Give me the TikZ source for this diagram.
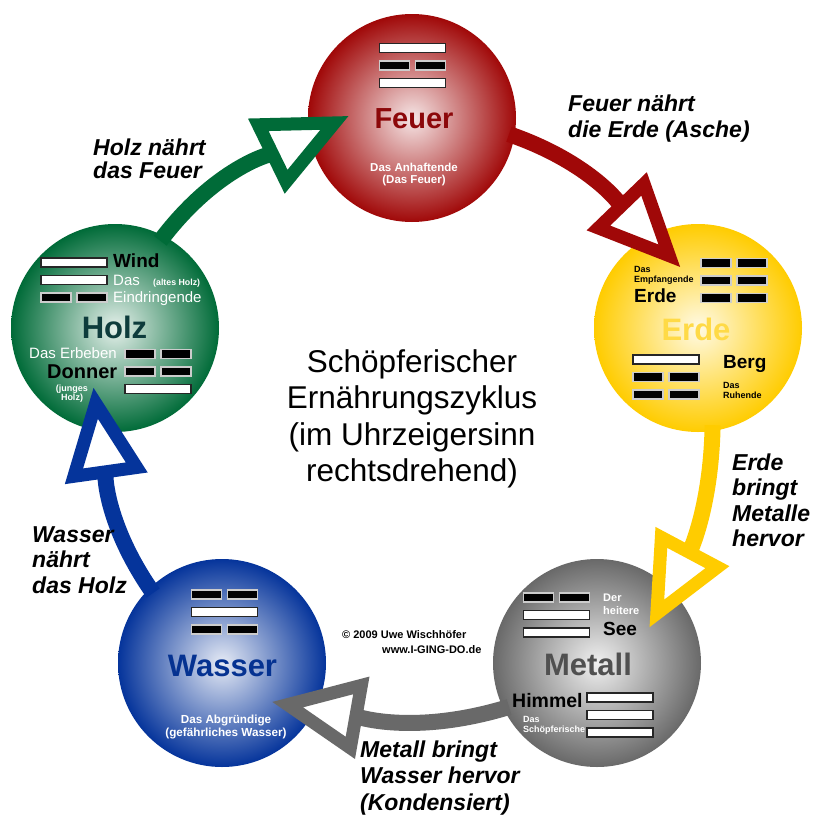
\documentclass[tikz,border=0pt]{standalone}
\usepackage{fontspec}
\setmainfont{Liberation Sans}
\usetikzlibrary{arrows.meta}

\definecolor{feuerrot}{RGB}{160,8,8}
\definecolor{feuerdunkel}{RGB}{140,8,10}
\definecolor{erdegelb}{RGB}{255,204,0}
\definecolor{erdehell}{RGB}{255,218,70}
\definecolor{holzgruen}{RGB}{0,107,56}
\definecolor{holzdunkel}{RGB}{14,60,60}
\definecolor{wasserblau}{RGB}{5,52,155}
\definecolor{wasserdunkel}{RGB}{5,50,145}
\definecolor{metallgrau}{RGB}{105,105,105}
\definecolor{metalldunkel}{RGB}{80,80,80}

\newcommand{\fsz}[2]{\fontsize{#1}{#2}\selectfont}
% one line of a trigram: #1 = 1 (whole) or 0 (broken), centre at (#2,#3)
\newcommand{\yao}[3]{%
  \ifnum#1=1
    \draw[yangbar] ({#2-33},{-(#3)-4.5}) rectangle ({#2+33},{-(#3)+4.5});
  \else
    \draw[yinbar] ({#2-33},{-(#3)-4.5}) rectangle ({#2-3},{-(#3)+4.5});
    \draw[yinbar] ({#2+3},{-(#3)-4.5}) rectangle ({#2+33},{-(#3)+4.5});
  \fi}
% trigram from top to bottom: centre x #1, top row y #2, lines #3 #4 #5
\newcommand{\trigram}[5]{%
  \yao{#3}{#1}{#2}%
  \yao{#4}{#1}{#2+17.5}%
  \yao{#5}{#1}{#2+35}}

\begin{document}
\begin{tikzpicture}[x=1pt, y=1pt,
  element/.style={circle, minimum size=208pt, inner sep=0pt,
    inner color=white!90!#1, outer color=#1},
  yangbar/.style={fill=white, draw=black!85, line width=1.3pt},
  yinbar/.style={fill=black, draw=white!80!black, line width=1.3pt},
  flow/.style={draw=#1, line width=16pt, shorten <=-6pt,
    -{Triangle[length=92pt, width=80pt, line width=13pt, fill=white]}},
  lab/.style={font=\bfseries\itshape\fsz{23}{#1}, align=left,
    anchor=base west, inner sep=0pt},
  txt/.style={inner sep=0pt, anchor=base west}]
  \fill[white] (0,0) rectangle (818,-820);
  \useasboundingbox (0,0) rectangle (818,-820);

  % the five elements
  \node[element=feuerrot] (feuer) at (412,-118) {};
  \node[element=erdegelb] (erde) at (698,-328) {};
  \node[element=metallgrau] (metall) at (597,-663) {};
  \node[element=wasserblau] (wasser) at (222,-663) {};
  \node[element=holzgruen] (holz) at (115,-328) {};

  % feeding cycle
  \draw[flow=holzgruen] (holz.62) to[out=53, in=206] ([shift={(178:63)}]feuer.center);
  \draw[flow=feuerrot] (feuer.-10) to[out=-19, in=134] ([shift={(106:63)}]erde.center);
  \draw[flow=erdegelb] (erde.-82) to[out=-91, in=62] ([shift={(34:63)}]metall.center);
  \draw[flow=metallgrau] (metall.-154) to[out=-163, in=-10] ([shift={(-38:63)}]wasser.center);
  \draw[flow=wasserblau] (wasser.134) to[out=125, in=278] ([shift={(250:63)}]holz.center);

  % Feuer
  \trigram{412.5}{48}{1}{0}{1}
  \node[txt, anchor=base, font=\bfseries\fsz{29}{30}, text=feuerdunkel] (feuername) at (414,-128) {Feuer};
  \node[txt, anchor=base, align=center, font=\bfseries\fsz{11.5}{12.5}, text=white] (feuerinfo) at (414,-183.5) {Das Anhaftende\\(Das Feuer)};

  % Erde
  \trigram{734}{263}{0}{0}{0}
  \trigram{666}{359.5}{1}{0}{0}
  \node[txt, align=left, font=\bfseries\fsz{9}{10}] (kuninfo) at (634,-282) {Das\\Empfangende};
  \node[txt, font=\bfseries\fsz{19}{20}] (kun) at (634,-302) {Erde};
  \node[txt, anchor=base, font=\bfseries\fsz{31}{32}, text=erdehell] (erdename) at (696,-340) {Erde};
  \node[txt, font=\bfseries\fsz{19}{20}] (gen) at (723,-368) {Berg};
  \node[txt, align=left, font=\bfseries\fsz{9}{9.5}] (geninfo) at (723,-398) {Das\\Ruhende};

  % Holz
  \trigram{74}{262.5}{1}{1}{0}
  \trigram{158}{354}{0}{0}{1}
  \node[txt, font=\bfseries\fsz{19}{20}] (sun) at (113,-267) {Wind};
  \node[txt, font=\fsz{15}{16}, text=white] (sundas) at (113,-285) {Das};
  \node[txt, font=\bfseries\fsz{8.8}{9}, text=white] (sunalt) at (153,-285) {(altes Holz)};
  \node[txt, font=\fsz{15}{16}, text=white] (suninfo) at (113,-302) {Eindringende};
  \node[txt, anchor=base, font=\bfseries\fsz{31}{32}, text=holzdunkel] (holzname) at (114.5,-338) {Holz};
  \node[txt, font=\fsz{15}{16}, text=white] (zheninfo) at (29,-358) {Das Erbeben};
  \node[txt, font=\bfseries\fsz{20}{21}] (zhen) at (47,-378) {Donner};
  \node[txt, anchor=base, align=center, font=\bfseries\fsz{9}{9.5}, text=white] (zhenjung) at (72,-400.5) {(junges\\Holz)};

  % Wasser
  \trigram{224.5}{594.5}{0}{1}{0}
  \node[txt, anchor=base, font=\bfseries\fsz{31}{32}, text=wasserdunkel] (wassername) at (222.5,-676) {Wasser};
  \node[txt, anchor=base, align=center, font=\bfseries\fsz{11.7}{13}, text=white] (kaninfo) at (226,-736) {Das Abgründige\\(gefährliches Wasser)};

  % Metall
  \trigram{556.5}{597.5}{0}{1}{1}
  \trigram{620}{697.5}{1}{1}{1}
  \node[txt, align=left, font=\bfseries\fsz{11}{13}, text=white] (duiinfo) at (603,-614) {Der\\heitere};
  \node[txt, font=\bfseries\fsz{19}{20}] (dui) at (603,-635) {See};
  \node[txt, anchor=base, font=\bfseries\fsz{31}{32}, text=metalldunkel] (metallname) at (588,-675) {Metall};
  \node[txt, font=\bfseries\fsz{19.5}{20}] (qian) at (512,-707) {Himmel};
  \node[txt, align=left, font=\bfseries\fsz{9}{10}, text=white] (qianinfo) at (523,-732) {Das\\Schöpferische};

  % labels of the arrows
  \node[lab=23] (holzfeuer) at (93,-178) {Holz nährt\\das Feuer};
  \node[lab=26] (feuererde) at (568,-137) {Feuer nährt\\die Erde (Asche)};
  \node[lab=25.5] (erdemetall) at (732,-546.5) {Erde\\bringt\\Metalle\\hervor};
  \node[lab=25.5] (wasserholz) at (32,-593) {Wasser\\nährt\\das Holz};
  \node[lab=26.5] (metallwasser) at (360,-810) {Metall bringt\\Wasser hervor\\(Kondensiert)};

  \node[txt, font=\bfseries\fsz{11}{12}] (copyright) at (342,-638) {© 2009 Uwe Wischhöfer};
  \node[txt, font=\bfseries\fsz{11}{12}] (web) at (382,-653) {www.I-GING-DO.de};

  \node[txt, anchor=base, align=center, font=\fsz{31.5}{36.5}] (zyklus) at (412,-481.5)
    {Schöpferischer\\Ernährungszyklus\\(im Uhrzeigersinn\\rechtsdrehend)};
\end{tikzpicture}
\end{document}
